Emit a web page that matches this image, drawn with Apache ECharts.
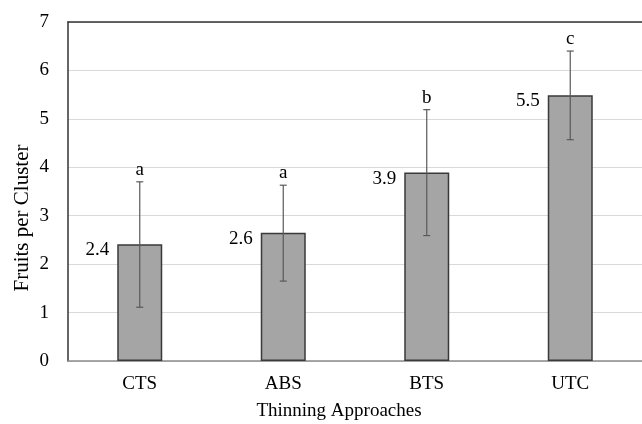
<!DOCTYPE html>
<html>
<head>
<meta charset="utf-8">
<script src="https://cdn.jsdelivr.net/npm/echarts@6/dist/echarts.min.js"></script>
<style>html,body{margin:0;padding:0;background:#fff;}#c{width:642px;height:424px;}</style>
</head>
<body>
<div id="c"></div>
<script>
var categories = ['CTS', 'ABS', 'BTS', 'UTC'];
var means = [2.41, 2.65, 3.89, 5.49];
var meanLabels = ['2.4', '2.6', '3.9', '5.5'];
var errLow = [1.11, 1.65, 2.59, 4.57];
var errHigh = [3.70, 3.63, 5.19, 6.40];
var letters = ['a', 'a', 'b', 'c'];
var yTicks = [0, 1, 2, 3, 4, 5, 6, 7];

var FONT = '"Liberation Serif", "Times New Roman", serif';
var FS = 19;
var chart = echarts.init(document.getElementById('c'), null, {renderer: 'canvas'});

var errData = categories.map(function (c, i) { return [i, errLow[i], errHigh[i], letters[i]]; });

chart.setOption({
  animation: false,
  grid: {left: 68, top: 22, width: 578, bottom: 63, containLabel: false},
  xAxis: [{
    type: 'category',
    data: categories,
    axisLine: {lineStyle: {color: '#8c8c8c', width: 1.5}},
    axisTick: {show: false},
    axisLabel: {color: '#000', fontFamily: FONT, fontSize: FS, margin: 14}
  }, {
    type: 'category',
    data: categories,
    position: 'top',
    axisLine: {show: true, lineStyle: {color: '#333', width: 1.5}},
    axisTick: {show: false},
    axisLabel: {show: false}
  }],
  yAxis: {
    type: 'value',
    min: yTicks[0],
    max: yTicks[yTicks.length - 1],
    interval: 1,
    axisLine: {show: true, lineStyle: {color: '#333', width: 1.5}},
    axisTick: {show: false},
    axisLabel: {color: '#000', fontFamily: FONT, fontSize: FS, margin: 19},
    splitLine: {lineStyle: {color: '#d9d9d9', width: 1}}
  },
  graphic: [{
    type: 'text', x: 22, y: 218, rotation: Math.PI / 2,
    style: {text: 'Fruits per Cluster', fontFamily: FONT, fontSize: 21, fill: '#000', align: 'center', verticalAlign: 'middle'}
  }, {
    type: 'text', x: 339, y: 411,
    style: {text: 'Thinning Approaches', fontFamily: FONT, fontSize: FS, fill: '#000', align: 'center', verticalAlign: 'middle'}
  }],
  series: [{
    type: 'bar',
    data: means,
    barWidth: 45,
    itemStyle: {color: '#a5a5a6', borderColor: '#3a3a3a', borderWidth: 1.5},
    label: {
      show: true,
      position: [-8, 6],
      align: 'right',
      verticalAlign: 'middle',
      fontFamily: FONT,
      fontSize: FS,
      color: '#000',
      formatter: function (p) { return meanLabels[p.dataIndex]; }
    }
  }, {
    type: 'custom',
    data: errData,
    z: 10,
    renderItem: function (params, api) {
      var x = api.coord([api.value(0), 0])[0];
      var lo = api.coord([api.value(0), api.value(1)])[1];
      var hi = api.coord([api.value(0), api.value(2)])[1];
      var cap = 3.5;
      var st = {stroke: '#595959', lineWidth: 1.2};
      return {
        type: 'group',
        children: [
          {type: 'line', shape: {x1: x, y1: hi, x2: x, y2: lo}, style: st},
          {type: 'line', shape: {x1: x - cap, y1: hi, x2: x + cap, y2: hi}, style: st},
          {type: 'line', shape: {x1: x - cap, y1: lo, x2: x + cap, y2: lo}, style: st},
          {type: 'text', x: x, y: hi - 12, style: {text: letters[params.dataIndex], fontFamily: FONT, fontSize: FS, fill: '#000', align: 'center', verticalAlign: 'middle'}}
        ]
      };
    }
  }]
});
</script>
</body>
</html>
